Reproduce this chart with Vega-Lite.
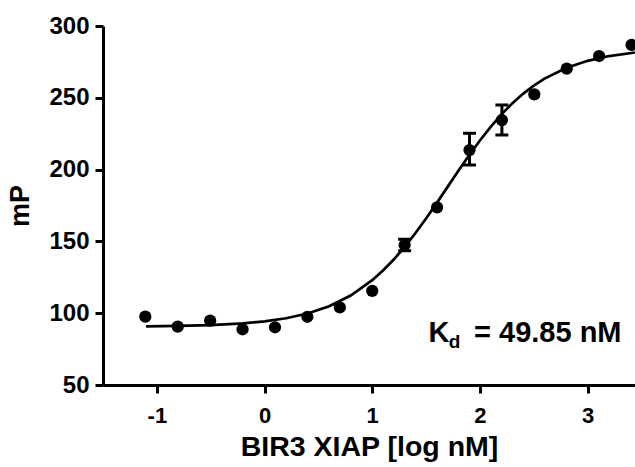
{
  "$schema": "https://vega.github.io/schema/vega-lite/v6.json",
  "autosize": "none",
  "width": 532,
  "height": 359,
  "padding": {"left": 103, "top": 26, "right": 0, "bottom": 82},
  "background": "white",
  "config": {
    "view": {"stroke": null},
    "font": "Liberation Sans",
    "axis": {
      "grid": false,
      "domainColor": "black",
      "domainWidth": 3,
      "tickColor": "black",
      "tickWidth": 3,
      "tickSize": 8,
      "labelColor": "black",
      "labelFont": "Liberation Sans",
      "labelFontWeight": "bold",
      "labelFontSize": 22,
      "titleColor": "black",
      "titleFont": "Liberation Sans",
      "titleFontWeight": "bold"
    }
  },
  "datasets": {
    "points": [
      {"logx": -1.107, "mP": 97.6},
      {"logx": -0.806, "mP": 90.6},
      {"logx": -0.505, "mP": 94.8},
      {"logx": -0.204, "mP": 88.8},
      {"logx": 0.097, "mP": 90.2},
      {"logx": 0.398, "mP": 97.5},
      {"logx": 0.699, "mP": 104.1},
      {"logx": 1.0, "mP": 115.5},
      {"logx": 1.301, "mP": 147.5},
      {"logx": 1.602, "mP": 173.7},
      {"logx": 1.903, "mP": 213.6},
      {"logx": 2.204, "mP": 234.5},
      {"logx": 2.505, "mP": 252.4},
      {"logx": 2.806, "mP": 270.3},
      {"logx": 3.107, "mP": 279.1},
      {"logx": 3.408, "mP": 286.8}
    ],
    "errors": [
      {"logx": 1.301, "low": 143.5, "high": 151.5},
      {"logx": 1.903, "low": 203.2, "high": 225.3},
      {"logx": 2.204, "low": 224.1, "high": 245.0}
    ],
    "fit": [
      {"logx": -1.1, "mP": 90.81},
      {"logx": -0.8, "mP": 91.12},
      {"logx": -0.5, "mP": 91.73},
      {"logx": -0.2, "mP": 92.93},
      {"logx": 0.0, "mP": 94.32},
      {"logx": 0.2, "mP": 96.49},
      {"logx": 0.4, "mP": 99.82},
      {"logx": 0.6, "mP": 104.88},
      {"logx": 0.8, "mP": 112.34},
      {"logx": 1.0, "mP": 122.98},
      {"logx": 1.1, "mP": 129.69},
      {"logx": 1.2, "mP": 137.39},
      {"logx": 1.3, "mP": 146.07},
      {"logx": 1.4, "mP": 155.64},
      {"logx": 1.5, "mP": 165.95},
      {"logx": 1.6, "mP": 176.83},
      {"logx": 1.7, "mP": 187.97},
      {"logx": 1.8, "mP": 199.12},
      {"logx": 1.9, "mP": 209.96},
      {"logx": 2.0, "mP": 220.26},
      {"logx": 2.1, "mP": 229.8},
      {"logx": 2.2, "mP": 238.43},
      {"logx": 2.3, "mP": 246.1},
      {"logx": 2.4, "mP": 252.78},
      {"logx": 2.5, "mP": 258.49},
      {"logx": 2.6, "mP": 263.34},
      {"logx": 2.8, "mP": 270.75},
      {"logx": 3.0, "mP": 275.76},
      {"logx": 3.2, "mP": 279.07},
      {"logx": 3.44, "mP": 281.54}
    ],
    "labelK": [{"logx": 1.523, "mP": 80, "text": "K"}],
    "labelSub": [{"logx": 1.71, "mP": 75.5, "text": "d"}],
    "labelRest": [{"logx": 3.315, "mP": 80, "text": "= 49.85 nM"}]
  },
  "encoding": {
    "x": {
      "field": "logx",
      "type": "quantitative",
      "scale": {"domain": [-1.5, 3.44], "nice": false, "zero": false},
      "axis": {
        "title": "BIR3 XIAP [log nM]",
        "titleFontSize": 28.5,
        "titlePadding": 6,
        "values": [-1, 0, 1, 2, 3],
        "labelExpr": "'' + datum.value",
        "labelPadding": 12,
        "labelFontSize": 22
      }
    },
    "y": {
      "field": "mP",
      "type": "quantitative",
      "scale": {"domain": [50, 300], "nice": false, "zero": false},
      "axis": {
        "title": "mP",
        "titleFontSize": 27,
        "titlePadding": 14,
        "values": [50, 100, 150, 200, 250, 300],
        "labelPadding": 6,
        "labelFontSize": 24
      }
    }
  },
  "layer": [
    {
      "data": {"name": "fit"},
      "mark": {"type": "line", "color": "black", "strokeWidth": 2.7, "clip": true},
      "encoding": {}
    },
    {
      "data": {"name": "errors"},
      "mark": {"type": "rule", "color": "black", "strokeWidth": 3},
      "encoding": {"y": {"field": "low", "type": "quantitative"}, "y2": {"field": "high"}}
    },
    {
      "data": {"name": "errors"},
      "mark": {"type": "tick", "color": "black", "orient": "horizontal", "size": 13, "thickness": 3, "opacity": 1},
      "encoding": {"y": {"field": "low", "type": "quantitative"}}
    },
    {
      "data": {"name": "errors"},
      "mark": {"type": "tick", "color": "black", "orient": "horizontal", "size": 13, "thickness": 3, "opacity": 1},
      "encoding": {"y": {"field": "high", "type": "quantitative"}}
    },
    {
      "data": {"name": "points"},
      "mark": {"type": "circle", "color": "black", "size": 150, "opacity": 1}
    },
    {
      "data": {"name": "labelK"},
      "mark": {"type": "text", "align": "left", "baseline": "alphabetic", "fontSize": 29, "fontWeight": "bold", "color": "black", "font": "Liberation Sans"},
      "encoding": {"text": {"field": "text"}}
    },
    {
      "data": {"name": "labelSub"},
      "mark": {"type": "text", "align": "left", "baseline": "alphabetic", "fontSize": 19, "fontWeight": "bold", "color": "black", "font": "Liberation Sans"},
      "encoding": {"text": {"field": "text"}}
    },
    {
      "data": {"name": "labelRest"},
      "mark": {"type": "text", "align": "right", "baseline": "alphabetic", "fontSize": 29, "fontWeight": "bold", "color": "black", "font": "Liberation Sans"},
      "encoding": {"text": {"field": "text"}}
    }
  ]
}
